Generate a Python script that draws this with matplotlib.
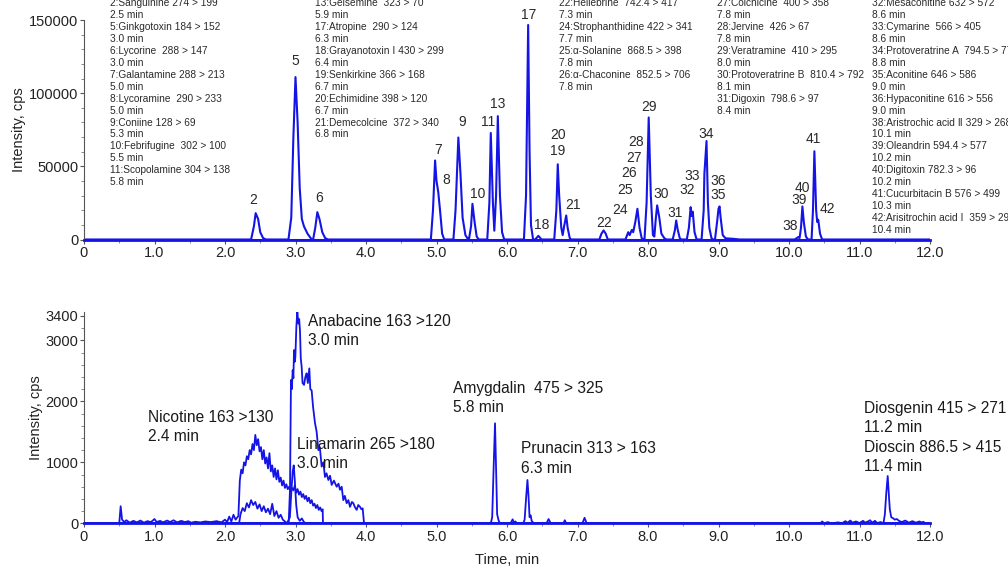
import matplotlib
matplotlib.use("Agg")
import matplotlib.pyplot as plt
from matplotlib.ticker import MultipleLocator, FixedLocator

# ---------------- data: top panel (MRM chromatogram, cps) ----------------
top_time = [0.00,
            2.37, 2.41, 2.435, 2.47, 2.50, 2.54, 2.58,
            2.90, 2.94, 2.97, 3.00, 3.03, 3.06, 3.09, 3.12, 3.17, 3.23,
            3.25, 3.28, 3.31, 3.34, 3.38, 3.42, 3.46,
            4.92, 4.95, 4.98, 5.00, 5.025, 5.05, 5.08, 5.11,
            5.24, 5.27, 5.31, 5.34, 5.37, 5.41, 5.45,
            5.46, 5.49, 5.51, 5.54, 5.57, 5.60,
            5.72, 5.75, 5.77, 5.80, 5.82, 5.845, 5.87, 5.90, 5.93, 5.96,
            6.24, 6.27, 6.30, 6.32, 6.34, 6.37,
            6.40, 6.445, 6.49,
            6.67, 6.70, 6.72, 6.74, 6.77, 6.79, 6.81, 6.84, 6.86, 6.89, 6.91,
            7.31, 7.34, 7.37, 7.40, 7.43,
            7.68, 7.72, 7.74, 7.77, 7.79, 7.82, 7.85, 7.88, 7.91, 7.93,
            7.95, 7.98, 8.01, 8.04, 8.07, 8.09, 8.11, 8.13, 8.16, 8.19, 8.23, 8.26,
            8.35, 8.38, 8.40, 8.42, 8.45, 8.47,
            8.55, 8.58, 8.605, 8.62, 8.635, 8.66, 8.69,
            8.76, 8.79, 8.80, 8.83, 8.85, 8.87, 8.90, 8.92,
            8.95, 8.98, 9.00, 9.015, 9.03, 9.06, 9.10, 9.20, 9.30,
            10.08, 10.13, 10.15, 10.17, 10.19, 10.21, 10.22, 10.24, 10.27,
            10.32, 10.34, 10.36, 10.385, 10.40, 10.415, 10.44, 10.47,
            12.00]
top_cps = [0,
           0, 9000, 18000, 14000, 5000, 1000, 0,
           0, 15000, 70000, 111000, 80000, 35000, 14000, 9000, 4000, 0,
           0, 8000, 18700, 14000, 5000, 1000, 0,
           0, 20000, 54000, 40000, 32400, 20000, 4000, 0,
           0, 20000, 69700, 45000, 15000, 3000, 0,
           0, 9000, 24400, 12000, 2000, 0,
           0, 25000, 72800, 25000, 6000, 30000, 84300, 30000, 5000, 0,
           0, 30000, 146600, 60000, 10000, 0,
           0, 2500, 0,
           0, 20000, 51400, 30000, 8000, 3000, 9000, 16400, 8000, 1000, 0,
           0, 4000, 6200, 4000, 0,
           0, 5000, 3000, 6500, 5000, 12000, 21000, 8000, 1000, 0,
           0, 25000, 83400, 30000, 3000, 2000, 14000, 23300, 15000, 4000, 1000, 0,
           0, 6000, 13000, 7000, 1000, 0,
           0, 8000, 22100, 16000, 19000, 5000, 0,
           0, 20000, 45000, 67300, 25000, 8000, 1000, 0,
           0, 12000, 21000, 22600, 15000, 3000, 800, 500, 0,
           0, 1600, 1000, 8000, 22600, 12000, 8400, 2000, 0,
           0, 20000, 60300, 20000, 12000, 13500, 4000, 0,
           0]

# peak number labels (label, time, cps)
peak_labels = ["2", "5", "6", "7", "8", "9", "10", "11", "13", "17", "18",
               "20", "19", "21", "22", "24", "25", "26", "27", "28", "29",
               "30", "31", "32", "33", "34", "36", "35", "38", "39", "40",
               "41", "42"]
peak_label_t = [2.40, 3.00, 3.33, 5.02, 5.14, 5.37, 5.58, 5.73, 5.87, 6.31, 6.49,
                6.73, 6.72, 6.94, 7.38, 7.61, 7.68, 7.73, 7.80, 7.83, 8.01,
                8.18, 8.39, 8.55, 8.63, 8.83, 9.00, 9.00, 10.01, 10.14, 10.19,
                10.35, 10.54]
peak_label_cps = [26700, 122300, 28600, 61400, 40400, 80300, 31300, 80300, 92500, 153400, 10000,
                  71400, 60300, 23300, 11600, 20500, 33600, 45200, 56000, 66700, 90400,
                  31000, 18300, 33600, 43400, 72400, 40000, 30100, 8900, 27200, 35100,
                  68900, 21000]

legend_cols_x = [110, 315, 559, 717, 872]
legend_col1 = ["2:Sanguinine 274 > 199", "2.5 min", "5:Ginkgotoxin 184 > 152", "3.0 min",
               "6:Lycorine  288 > 147", "3.0 min", "7:Galantamine 288 > 213", "5.0 min",
               "8:Lycoramine  290 > 233", "5.0 min", "9:Coniine 128 > 69", "5.3 min",
               "10:Febrifugine  302 > 100", "5.5 min", "11:Scopolamine 304 > 138", "5.8 min"]
legend_col2 = ["13:Gelsemine  323 > 70", "5.9 min", "17:Atropine  290 > 124", "6.3 min",
               "18:Grayanotoxin Ⅰ 430 > 299", "6.4 min", "19:Senkirkine 366 > 168", "6.7 min",
               "20:Echimidine 398 > 120", "6.7 min", "21:Demecolcine  372 > 340", "6.8 min"]
legend_col3 = ["22:Hellebrine  742.4 > 417", "7.3 min", "24:Strophanthidine 422 > 341", "7.7 min",
               "25:α-Solanine  868.5 > 398", "7.8 min", "26:α-Chaconine  852.5 > 706", "7.8 min"]
legend_col4 = ["27:Colchicine  400 > 358", "7.8 min", "28:Jervine  426 > 67", "7.8 min",
               "29:Veratramine  410 > 295", "8.0 min", "30:Protoveratrine B  810.4 > 792", "8.1 min",
               "31:Digoxin  798.6 > 97", "8.4 min"]
legend_col5 = ["32:Mesaconitine 632 > 572", "8.6 min", "33:Cymarine  566 > 405", "8.6 min",
               "34:Protoveratrine A  794.5 > 776", "8.8 min", "35:Aconitine 646 > 586", "9.0 min",
               "36:Hypaconitine 616 > 556", "9.0 min", "38:Aristrochic acid Ⅱ 329 > 268", "10.1 min",
               "39:Oleandrin 594.4 > 577", "10.2 min", "40:Digitoxin 782.3 > 96", "10.2 min",
               "41:Cucurbitacin B 576 > 499", "10.3 min", "42:Arisitrochin acid Ⅰ  359 > 298", "10.4 min"]

# ---------------- data: bottom panel ----------------
nic_time = [0.50, 0.52, 0.54, 0.57, 0.60, 0.65, 0.70, 0.75, 0.80, 0.85, 0.90, 0.95, 1.00, 1.03,
            1.08, 1.12, 1.18, 1.22, 1.27, 1.32, 1.38, 1.43, 1.48, 1.52, 1.58, 1.65, 1.72, 1.80,
            1.88, 1.95, 2.00, 2.03, 2.06, 2.09, 2.12, 2.15, 2.19, 2.21, 2.23, 2.25, 2.27, 2.29,
            2.31, 2.33, 2.35, 2.37, 2.39, 2.41, 2.43, 2.45, 2.47, 2.49, 2.51, 2.53, 2.55, 2.57,
            2.59, 2.61, 2.63, 2.65, 2.67, 2.69, 2.71, 2.73, 2.75, 2.77, 2.79, 2.81, 2.83, 2.85,
            2.87, 2.89, 2.91, 2.93, 2.95, 2.97, 2.99, 3.01, 3.03, 3.05, 3.07, 3.09, 3.11, 3.13,
            3.15, 3.17, 3.19, 3.21, 3.23, 3.25, 3.27, 3.29, 3.31, 3.33, 3.35, 3.37, 3.385, 3.39]
nic_cps = [0, 280, 60, 20, 50, 10, 40, 15, 45, 10, 35, 20, 70, 20,
           40, 15, 45, 20, 50, 15, 40, 20, 35, 10, 25, 15, 30, 20,
           35, 15, 60, 20, 110, 30, 140, 60, 120, 700, 880, 820, 1000, 950,
           1100, 1050, 1200, 1130, 1300, 1200, 1450, 1280, 1380, 1180, 1250, 1050, 1200, 980,
           1080, 900, 1150, 850, 950, 760, 900, 720, 870, 680, 750, 620, 700, 580,
           640, 560, 600, 520, 580, 540, 620, 500, 560, 470, 520, 430, 480, 400,
           450, 360, 420, 330, 380, 290, 320, 250, 300, 220, 260, 200, 230, 0]

lin_time = [2.20, 2.22, 2.25, 2.28, 2.31, 2.34, 2.37, 2.40, 2.43, 2.46, 2.49, 2.52, 2.55, 2.58,
            2.61, 2.64, 2.67, 2.70, 2.73, 2.76, 2.79, 2.82, 2.85, 2.88, 2.92, 2.94, 2.96, 2.975,
            2.99, 3.01, 3.03, 3.06, 3.09, 3.12, 3.15]
lin_cps = [0, 150, 250, 200, 330, 260, 380, 300, 350, 240, 310, 200, 280, 180,
           240, 150, 320, 120, 200, 90, 140, 60, 30, 0, 100, 500, 850, 950,
           700, 300, 100, 40, 80, 20, 0]

ana_time = [2.903, 2.922, 2.936, 2.948, 2.960, 2.970, 2.979, 2.990, 2.998, 3.012, 3.026, 3.040,
            3.052, 3.064, 3.075, 3.087, 3.100, 3.121, 3.140, 3.158, 3.175, 3.196, 3.210, 3.229,
            3.250, 3.277, 3.300, 3.324, 3.345, 3.371, 3.395, 3.418, 3.440, 3.466, 3.490, 3.513,
            3.545, 3.584, 3.610, 3.631, 3.655, 3.678, 3.700, 3.726, 3.750, 3.773, 3.800, 3.820,
            3.845, 3.868, 3.890, 3.915, 3.935, 3.953, 3.972]
ana_cps = [0, 550, 2350, 2200, 2510, 2380, 2840, 2650, 2730, 3220, 3480, 3275,
           3350, 3150, 2700, 2570, 2300, 2270, 2400, 2460, 2300, 2540, 2200, 2180,
           1900, 1640, 1500, 1200, 1250, 930, 1000, 760, 820, 710, 780, 630,
           700, 600, 650, 550, 600, 380, 450, 330, 380, 270, 350, 330,
           260, 220, 300, 270, 230, 245, 0]

amy_time = [5.77, 5.79, 5.81, 5.83, 5.845, 5.86, 5.88, 5.90,
            6.05, 6.08, 6.10, 6.12, 6.14,
            6.23, 6.25, 6.27, 6.29, 6.305, 6.32, 6.335, 6.35, 6.38,
            6.56, 6.59, 6.62, 6.80, 6.82, 6.84, 7.07, 7.10, 7.13]
amy_cps = [0, 100, 900, 1640, 900, 150, 50, 0,
           0, 65, 10, 30, 0,
           0, 60, 400, 710, 450, 100, 130, 40, 0,
           0, 70, 0, 0, 50, 0, 0, 90, 0]

dio_time = [10.45, 10.47, 10.50, 10.55, 10.60, 10.70, 10.75, 10.80, 10.83, 10.87, 10.90, 10.95,
            11.00, 11.05, 11.08, 11.12, 11.15, 11.18, 11.22, 11.25, 11.30, 11.34, 11.36, 11.38,
            11.40, 11.42, 11.43, 11.45, 11.48, 11.50, 11.53, 11.56, 11.60, 11.65, 11.70, 11.75,
            11.80, 11.85, 11.88, 11.91, 11.92]
dio_cps = [0, 30, 0, 20, 0, 15, 0, 35, 10, 45, 10, 30,
           5, 40, 10, 30, 50, 10, 40, 5, 20, 0, 150, 500,
           775, 400, 230, 100, 80, 60, 70, 40, 20, 45, 10, 35,
           10, 30, 15, 25, 0]

bottom_texts = ["Anabacine 163 >120\n3.0 min", "Nicotine 163 >130\n2.4 min",
                "Linamarin 265 >180\n3.0 min", "Amygdalin  475 > 325\n5.8 min",
                "Prunacin 313 > 163\n6.3 min",
                "Diosgenin 415 > 271\n11.2 min\nDioscin 886.5 > 415\n11.4 min"]
bottom_text_t = [3.18, 0.91, 3.02, 5.23, 6.20, 11.06]
bottom_text_cps = [3152, 1579, 1136, 2054, 1062, 1407]

x_ticks = [0, 1, 2, 3, 4, 5, 6, 7, 8, 9, 10, 11, 12]
x_tick_labels = ["0", "1.0", "2.0", "3.0", "4.0", "5.0", "6.0", "7.0", "8.0", "9.0",
                 "10.0", "11.0", "12.0"]
top_y_ticks = [0, 50000, 100000, 150000]
bottom_y_ticks = [0, 1000, 2000, 3000, 3400]

# ---------------- drawing ----------------
W, H = 1008, 575
BLUE = "#1414e6"
TXT = "#2a2a2a"
plt.rcParams["font.family"] = ["Liberation Sans", "DejaVu Sans"]

fig = plt.figure(figsize=(W / 100, H / 100), dpi=100)


def px_axes(x0, y_top, x1, y_bot):
    return fig.add_axes([x0 / W, 1 - y_bot / H, (x1 - x0) / W, (y_bot - y_top) / H])


ax1 = px_axes(84, 20, 930, 239.5)
ax2 = px_axes(84, 311.7, 930, 523.3)

for ax in (ax1, ax2):
    for s in ("top", "right"):
        ax.spines[s].set_visible(False)
    ax.spines["left"].set_color("#555555")
    ax.spines["bottom"].set_color(BLUE)
    ax.spines["bottom"].set_linewidth(2.0)
    ax.set_xlim(0, 12)
    ax.xaxis.set_major_locator(FixedLocator(x_ticks))
    ax.set_xticklabels(x_tick_labels)
    ax.xaxis.set_minor_locator(MultipleLocator(0.5))
    ax.tick_params(axis="both", which="major", labelsize=10.5, length=3, width=0.8,
                   colors="#555555", labelcolor="#222222")
    ax.tick_params(axis="y", which="major", pad=1)
    ax.tick_params(axis="x", which="major", pad=2)
    ax.tick_params(axis="both", which="minor", length=2, width=0.6, colors="#777777")
    ax.set_facecolor("none")

# top
ax1.plot(top_time, top_cps, color=BLUE, lw=1.5, solid_joinstyle="round")
ax1.plot([0, 12], [0, 0], color=BLUE, lw=2.2)
ax1.set_ylim(0, 150000)
ax1.yaxis.set_major_locator(FixedLocator(top_y_ticks))
ax1.yaxis.set_minor_locator(MultipleLocator(10000))
ax1.set_yticklabels([str(v) for v in top_y_ticks])
ax1.set_ylabel("Intensity, cps", fontsize=10.5, color="#222222", labelpad=2)
for lab, t, c in zip(peak_labels, peak_label_t, peak_label_cps):
    ax1.text(t, c, lab, ha="center", va="center", fontsize=10, color=TXT, clip_on=False)

# legend blocks
legend_cols = [legend_col1, legend_col2, legend_col3, legend_col4, legend_col5]
for xpx, col in zip(legend_cols_x, legend_cols):
    for i, line in enumerate(col):
        ypx = 3 + 11.95 * i
        fig.text(xpx / W, 1 - ypx / H, line, ha="left", va="center", fontsize=7.3,
                 color=TXT, family=["Liberation Sans", "DejaVu Sans"])

# bottom
for tt, cc in ((nic_time, nic_cps), (lin_time, lin_cps), (ana_time, ana_cps),
               (amy_time, amy_cps), (dio_time, dio_cps)):
    ax2.plot(tt, cc, color=BLUE, lw=1.3, solid_joinstyle="round")
ax2.plot([0, 12], [0, 0], color=BLUE, lw=2.0)
ax2.set_ylim(0, 3470)
ax2.yaxis.set_major_locator(FixedLocator(bottom_y_ticks))
ax2.yaxis.set_minor_locator(MultipleLocator(200))
ax2.set_yticklabels([str(v) for v in bottom_y_ticks])
ax2.set_ylabel("Intensity, cps", fontsize=10.5, color="#222222", labelpad=2)
ax2.set_xlabel("Time, min", fontsize=10.5, color="#222222", labelpad=6)
for s, t, c in zip(bottom_texts, bottom_text_t, bottom_text_cps):
    ax2.text(t, c, s, ha="left", va="center", fontsize=11.2, color="#1a1a1a",
             linespacing=1.35, clip_on=False)

fig.savefig("out.png", dpi=100)
